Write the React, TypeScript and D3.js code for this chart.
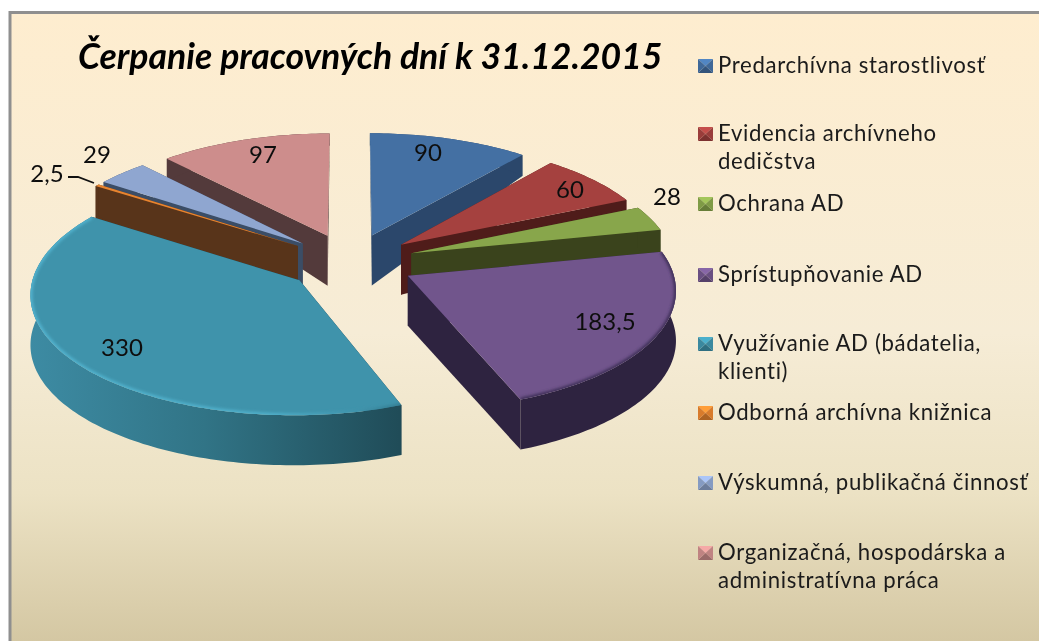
import React from "react";
import * as d3 from "d3";

const titleText = "Čerpanie pracovných dní k 31.12.2015";
const values = [90, 60, 28, 183.5, 330, 2.5, 29, 97];
const valueLabels = ["90", "60", "28", "183,5", "330", "2,5", "29", "97"];
const legendLines = [
  ["Predarchívna starostlivosť"],
  ["Evidencia archívneho", "dedičstva"],
  ["Ochrana AD"],
  ["Sprístupňovanie AD"],
  ["Využívanie AD (bádatelia,", "klienti)"],
  ["Odborná archívna knižnica"],
  ["Výskumná, publikačná činnosť"],
  ["Organizačná, hospodárska a", "administratívna práca"],
];
const topColors = ["#4470a3", "#a5413f", "#88a64b", "#71558c", "#3f93ab", "#e8842f", "#8fa6d0", "#cd8d8c"];
const wallColors = ["#2b476b", "#4f1c1a", "#3a431c", "#2e2340", "#1c3f4a", "#58341a", "#3b4d66", "#533a3b"];
const drawOrder = [7, 0, 1, 6, 5, 2, 3, 4];
const labelPos: [number, number][] = [[428, 151], [570, 188], [667, 195], [605, 320], [122, 346], [47, 172], [97, 153], [263, 153]];
const legendY = [66, 134, 204, 275, 344, 413, 483, 553];

const cx = 350.5, cy = 262, Rx = 263, Ry = 117.5, persp = 0.1, explode = 0.245;
const depth = d3.scaleLinear().domain([-1.1, 0.23, 1.0]).range([50, 50, 21]);
const FONT = "Lato, 'Open Sans', sans-serif";

function project(u: number, v: number): [number, number] {
  const s = 1 / (1 + persp * v);
  return [cx + u * Rx * s, cy - v * Ry * s];
}
const arcs = d3.pie<number>().sort(null).startAngle(0).endAngle(2 * Math.PI)(values);

function sliceGeom(a: d3.PieArcDatum<number>) {
  const mid = (a.startAngle + a.endAngle) / 2;
  const ox = explode * Math.sin(mid), oy = explode * Math.cos(mid);
  const n = Math.max(2, Math.ceil((a.endAngle - a.startAngle) / 0.02));
  const rim = d3.range(n + 1).map((i) => {
    const t = a.startAngle + ((a.endAngle - a.startAngle) * i) / n;
    return { u: ox + Math.sin(t), v: oy + Math.cos(t) };
  });
  return { apex: { u: ox, v: oy }, rim };
}
const line = d3.line();
const top = (p: { u: number; v: number }) => project(p.u, p.v);
const bot = (p: { u: number; v: number }): [number, number] => {
  const q = project(p.u, p.v);
  return [q[0], q[1] + depth(p.v)];
};

function Swatch({ y, color }: { y: number; color: string }) {
  const x = 698, w = 15, h = 14;
  const c = d3.color(color)!;
  const shades = [c.brighter(0.5), c.darker(0.2), c.darker(0.8), c.darker(0.2)];
  const cpt: [number, number] = [x + w / 2, y];
  const corners: [number, number][] = [[x, y - h / 2], [x + w, y - h / 2], [x + w, y + h / 2], [x, y + h / 2]];
  return (
    <g>
      {corners.map((p, i) => (
        <path key={i} d={line([p, corners[(i + 1) % 4], cpt]) + "Z"} fill={shades[i].formatHex()} />
      ))}
    </g>
  );
}

export default function App() {
  const W = 1039, H = 641;
  const tealRimEnd = project(0.4, -1)[0];
  return (
    <svg width={W} height={H} style={{ position: "absolute", left: 0, top: 0, background: "#fff" }}>
      <defs>
        <linearGradient id="bg" x1="0" y1="0" x2="0" y2="1">
          <stop offset="0" stopColor="#feedcf" />
          <stop offset="0.5" stopColor="#f6ecd6" />
          <stop offset="0.75" stopColor="#ece2c4" />
          <stop offset="1" stopColor="#d2c5a0" />
        </linearGradient>
        <linearGradient id="tealRim" gradientUnits="userSpaceOnUse" x1={30} y1={0} x2={tealRimEnd} y2={0}>
          <stop offset="0" stopColor="#3d8ba3" />
          <stop offset="0.4" stopColor="#317486" />
          <stop offset="1" stopColor="#1a3e48" />
        </linearGradient>
        <linearGradient id="tealBevel" gradientUnits="userSpaceOnUse" x1={30} y1={0} x2={tealRimEnd} y2={0}>
          <stop offset="0" stopColor="#52b4d0" />
          <stop offset="0.55" stopColor="#50b0cb" />
          <stop offset="0.75" stopColor="#3f93ab" />
          <stop offset="1" stopColor="#1f5363" />
        </linearGradient>
        <filter id="soft"><feGaussianBlur stdDeviation="1.5" /></filter>
        <filter id="textSoft" x="-5%" y="-20%" width="110%" height="140%"><feGaussianBlur stdDeviation="0.35" /></filter>
        {[3, 4].map((i) => {
          const g = sliceGeom(arcs[i]);
          return (
            <clipPath key={i} id={`face${i}`}>
              <path d={line([top(g.apex), ...g.rim.map(top)]) + "Z"} />
            </clipPath>
          );
        })}
      </defs>
      <rect x={10} y={12.5} width={W + 10} height={H} fill="url(#bg)" stroke="#8f8f8f" strokeWidth={3} />
      <text x={78} y={69} fontFamily={FONT} fontSize={35.6} fontWeight={700} fontStyle="italic" fill="#000" filter="url(#textSoft)">{titleText}</text>
      {drawOrder.map((i) => {
        const g = sliceGeom(arcs[i]);
        const first = g.rim[0], last = g.rim[g.rim.length - 1];
        const rimWall = [...g.rim.map(top), ...g.rim.slice().reverse().map(bot)];
        const wallA = [top(g.apex), top(first), bot(first), bot(g.apex)];
        const wallB = [top(g.apex), top(last), bot(last), bot(g.apex)];
        const face = [top(g.apex), ...g.rim.map(top)];
        return (
          <g key={i}>
            <path d={line(wallA) + "Z"} fill={wallColors[i]} />
            <path d={line(wallB) + "Z"} fill={wallColors[i]} />
            <path d={line(rimWall) + "Z"} fill={i === 4 ? "url(#tealRim)" : wallColors[i]} />
            <path d={line(face) + "Z"} fill={topColors[i]} />
            {(i === 3 || i === 4) && (
              <g clipPath={`url(#face${i})`}>
                <path d={line(g.rim.map(top)) ?? ""} fill="none" filter="url(#soft)"
                  stroke={i === 4 ? "url(#tealBevel)" : "#3d2f57"} strokeWidth={4} />
              </g>
            )}
          </g>
        );
      })}
      <path d={d3.line()([[68, 177], [78, 177], [94, 183]]) ?? ""} fill="none" stroke="#111" strokeWidth={1.8} />
      <g filter="url(#textSoft)">
        {valueLabels.map((t, i) => (
          <text key={t} x={labelPos[i][0]} y={labelPos[i][1]} textAnchor="middle" dominantBaseline="central"
            fontFamily={FONT} fontSize={24} fill="#111">{t}</text>
        ))}
      </g>
      {legendLines.map((ls, i) => (
        <g key={i}>
          <Swatch y={legendY[i]} color={topColors[i]} />
          <g filter="url(#textSoft)">
            {ls.map((t, j) => (
              <text key={j} x={718} y={legendY[i] - 1.5 + j * 28} dominantBaseline="central"
                fontFamily={FONT} fontSize={22.2} letterSpacing={0.65} fill="#1a1a1a">{t}</text>
            ))}
          </g>
        </g>
      ))}
    </svg>
  );
}
